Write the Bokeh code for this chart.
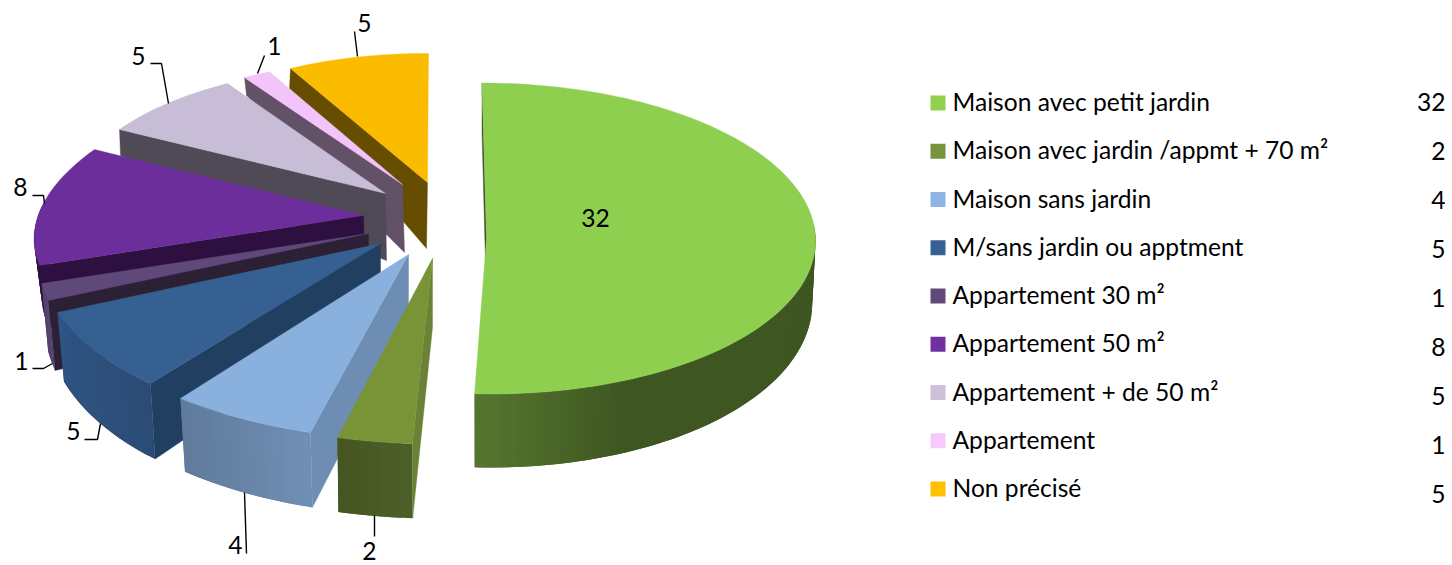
from math import sin, cos, radians
from bokeh.plotting import figure
from bokeh.models import Range1d
from bokeh.core.properties import value
from bokeh.embed import file_html
from bokeh.resources import INLINE

# ---- data ----
categories = ["Maison avec petit jardin", "Maison avec jardin /appmt + 70 m²", "Maison sans jardin",
              "M/sans jardin ou apptment", "Appartement 30 m²", "Appartement 50 m²",
              "Appartement + de 50 m²", "Appartement", "Non précisé"]
values = [32, 2, 4, 5, 1, 8, 5, 1, 5]

# ---- styles ----
top_colors = ["#8FCF50", "#789437", "#8AB0DE", "#366092", "#5F497A", "#6C2E9B", "#C7BDD6", "#F2C4FA", "#FBBC00"]
legend_colors = ["#92D050", "#77933C", "#8DB4E2", "#366092", "#60497A", "#7030A0", "#CCC0DA", "#F5CAFD", "#FFC000"]
cut_colors = ["#3F4F2C", "#6A8236", "#6E8DB3", "#213F60", "#2C2035", "#2D1040", "#4F4A55", "#635168", "#664D00"]
wall_a = ["#3E5621", "#4E6028", "#708FB5", "#2B4C74", "#5A4673", "#2D1040", "#4F4A55", "#635168", "#664D00"]
wall_b = ["#56762F", "#455522", "#5F7A9A", "#2F5484", "#533F6B", "#2D1040", "#4F4A55", "#635168", "#664D00"]
wall_from = [0.85, 0, 0, 0, 0, 0, 0, 0, 0]

# ---- exploded, perspective look: where each wedge's unit circle lands on the page ----
hub_x = [486, 432, 408, 380, 368, 363, 385, 402, 427]
hub_y = [238, 258, 254, 243, 233, 215, 193, 184, 182]
row_a = [329, 381, 367.8, 340.5, 327, 326.1, 308.8, 290, 288.3]
row_b = [-4.5, 1.05, 7.5, 30.6, 52.9, 46.5, 19.3, 6.5, 1.0]
row_c = [0, 2.5, 6.0, 5.4, 7.7, -2.5, 5.6, 6.1, 1.5]
row_d = [-155.5, -185.5, -185.2, -179.7, -180, -149.5, -129.3, -125.2, -129]
drop_x = [0, 0, 0, 0, 0, 1, 1, 2, -1]
drop_y = [62, 69, 66, 63, 62, 55, 67, 68, 66]
k_x = [0.99, 0.99, 0.98, 0.98, 0.98, 0.98, 1, 1, 1]
k_y = [1.074, 1.03, 1.05, 1.09, 1.12, 1.05, 1.64, 1.47, 1.40]

# ---- label placement ----
label_x = [595, 369, 235, 73, 21, 20, 138, 274, 364]
label_y = [217, 550.5, 544, 430, 360, 186, 55, 45, 22]
leader_x = [None, [374, 374], [246, 244], [84, 97, 100], [32, 43, 52], [32, 43, 44], [150, 161, 168], [264, 257], [354, 357]]
leader_y = [None, [536, 515], [553, 492], [439, 439, 423], [368, 368, 363], [195, 195, 203], [63, 63, 103], [55, 73], [31, 56]]

FONT = value("Lato")
LABEL_SIZE = "24.6px"


def mix(c1, c2, t):
    t = max(0.0, min(1.0, t))
    a = [int(c1[i:i + 2], 16) for i in (1, 3, 5)]
    b = [int(c2[i:i + 2], 16) for i in (1, 3, 5)]
    return "#%02x%02x%02x" % tuple(round(x + (y - x) * t) for x, y in zip(a, b))


def top_pt(i, deg):
    s, c = sin(radians(deg)), cos(radians(deg))
    return hub_x[i] + row_a[i] * s + row_b[i] * c, hub_y[i] + row_c[i] * s + row_d[i] * c


def bottom_pt(i, deg):
    s, c = sin(radians(deg)), cos(radians(deg))
    return (hub_x[i] + drop_x[i] + k_x[i] * (row_a[i] * s + row_b[i] * c),
            hub_y[i] + drop_y[i] + k_y[i] * (row_c[i] * s + row_d[i] * c))


p = figure(width=1452, height=565, output_backend="svg", toolbar_location=None,
           x_range=Range1d(0, 1452), y_range=Range1d(565, 0), min_border=0)
p.axis.visible = False
p.grid.visible = False
p.outline_line_color = None

total = sum(values)
edges = [0.0]
for v in values:
    edges.append(edges[-1] + v / total * 360.0)

order = [0, 8, 7, 6, 5, 4, 3, 2, 1]
for i in order:
    a0, a1 = edges[i], edges[i + 1]
    n = max(3, int((a1 - a0) / 1.5))
    angles = [a0 + (a1 - a0) * k / n for k in range(n + 1)]

    # outer wall, as narrow shaded strips, each overlapping the next so no seams show;
    # only the part of the rim that faces the viewer
    if a0 < 270:
        for k in range(n):
            if angles[k + 1] > 275 or angles[k + 1] < 85:
                continue
            strip = [angles[k], (angles[k] + angles[k + 1]) / 2, angles[min(k + 2, n)]]
            tops = [top_pt(i, a) for a in strip]
            bots = [bottom_pt(i, a) for a in reversed(strip)]
            t = ((k + 0.5) / n - wall_from[i]) / (1 - wall_from[i])
            col = mix(wall_a[i], wall_b[i], t)
            p.patch([q[0] for q in tops + bots], [q[1] for q in tops + bots],
                    fill_color=col, line_color=None)

    # cut face
    r0, r0b = top_pt(i, a0), bottom_pt(i, a0)
    p.patch([r0[0], hub_x[i], hub_x[i] + drop_x[i], r0b[0]],
            [r0[1], hub_y[i], hub_y[i] + drop_y[i], r0b[1]],
            fill_color=cut_colors[i], line_color=cut_colors[i], line_width=0.4)

    # top face
    rim = [top_pt(i, a) for a in angles]
    p.patch([hub_x[i]] + [q[0] for q in rim], [hub_y[i]] + [q[1] for q in rim],
            fill_color=top_colors[i], line_color=top_colors[i], line_width=0.4)

# leaders and slice labels
for i in range(len(values)):
    if leader_x[i] is not None:
        p.line(leader_x[i], leader_y[i], line_color="#000000", line_width=1.4)
p.text(label_x, label_y, text=[str(v) for v in values], text_font=FONT, text_font_size=LABEL_SIZE,
       text_color="#000000", text_align="center", text_baseline="middle")

# legend as a table
leg_y = [102.5 + 48.25 * k for k in range(len(categories))]
val_y = [101 + 49 * k for k in range(len(categories))]
p.scatter([937.5] * len(categories), leg_y, marker="square", size=15, fill_color=legend_colors, line_color=None)
p.text([952] * len(categories), [y - 1.5 for y in leg_y], text=categories, text_font=FONT,
       text_font_size=LABEL_SIZE, text_color="#000000", text_align="left", text_baseline="middle")
p.text([1445] * len(categories), val_y, text=[str(v) for v in values], text_font=FONT,
       text_font_size=LABEL_SIZE, text_color="#000000", text_align="right", text_baseline="middle")

open("out.html", "w").write(file_html(p, INLINE))
